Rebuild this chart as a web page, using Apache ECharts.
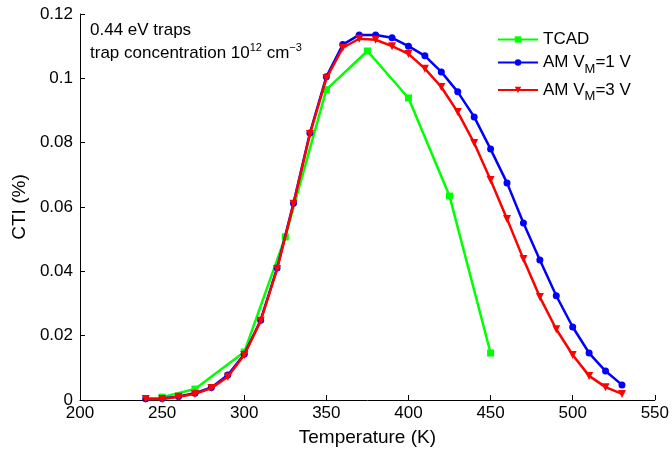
<!DOCTYPE html>
<html>
<head>
<meta charset="utf-8">
<script src="https://cdn.jsdelivr.net/npm/echarts@6/dist/echarts.min.js"></script>
<style>
html,body{margin:0;padding:0;background:#fff;}
#c{width:672px;height:452px;}
</style>
</head>
<body>
<div id="c"></div>
<script>
var tcadT = [250, 270, 300, 325, 350, 375, 400, 425, 450];
var tcadV = [0.0009, 0.0034, 0.0149, 0.0507, 0.0965, 0.1085, 0.0939, 0.0634, 0.0146];
var amT = [240, 250, 260, 270, 280, 290, 300, 310, 320, 330, 340, 350, 360, 370, 380, 390, 400, 410, 420, 430, 440, 450, 460, 470, 480, 490, 500, 510, 520, 530];
var am1V = [0.0004, 0.0005, 0.0011, 0.0021, 0.0039, 0.0078, 0.0142, 0.0248, 0.0410, 0.0612, 0.0830, 0.1005, 0.1105, 0.1135, 0.1135, 0.1126, 0.1100, 0.1070, 0.1020, 0.0958, 0.0880, 0.0780, 0.0675, 0.0550, 0.0435, 0.0324, 0.0227, 0.0146, 0.0090, 0.0047];
var am3V = [0.0003, 0.0003, 0.0010, 0.0019, 0.0037, 0.0072, 0.0140, 0.0246, 0.0407, 0.0610, 0.0827, 0.1000, 0.1095, 0.1123, 0.1120, 0.1100, 0.1076, 0.1030, 0.0973, 0.0895, 0.0799, 0.0684, 0.0563, 0.0438, 0.0320, 0.0220, 0.0140, 0.0075, 0.0040, 0.0019];
var seriesNames = ['TCAD', 'AM VM=1 V', 'AM VM=3 V'];
var xLabel = 'Temperature (K)';
var yLabel = 'CTI (%)';
var noteLine1 = '0.44 eV traps';

function zip(a, b) { return a.map(function (v, i) { return [v, b[i]]; }); }

var FONT = '"Liberation Sans", Arial, sans-serif';
var chart = echarts.init(document.getElementById('c'), null, {renderer: 'canvas'});
var richBase = {
  n: {fontSize: 17, fontFamily: FONT, color: '#000', lineHeight: 26},
  s: {fontSize: 13, fontFamily: FONT, color: '#000', lineHeight: 10, verticalAlign: 'bottom'}
};
chart.setOption({
  animation: false,
  backgroundColor: '#fff',
  grid: {left: 80, right: 16, top: 14, bottom: 52, containLabel: false},
  xAxis: {
    type: 'value', min: 200, max: 550, interval: 50,
    name: xLabel, nameLocation: 'middle', nameGap: 28,
    nameTextStyle: {fontSize: 19, fontFamily: FONT, color: '#000'},
    axisLine: {onZero: false, lineStyle: {color: '#000', width: 1}},
    axisTick: {inside: true, length: 5, lineStyle: {color: '#000'}},
    axisLabel: {fontSize: 17, fontFamily: FONT, color: '#000', margin: 5},
    splitLine: {show: false}
  },
  yAxis: {
    type: 'value', min: 0, max: 0.12, interval: 0.02,
    name: yLabel, nameLocation: 'middle', nameGap: 48,
    nameTextStyle: {fontSize: 19, fontFamily: FONT, color: '#000'},
    axisLine: {show: true, lineStyle: {color: '#000', width: 1}},
    axisTick: {show: true, inside: true, length: 5, lineStyle: {color: '#000'}},
    axisLabel: {fontSize: 17, fontFamily: FONT, color: '#000', margin: 7,
      formatter: function (v) { return String(parseFloat(v.toFixed(3))); }},
    splitLine: {show: false}
  },
  legend: {
    orient: 'vertical', left: 492, top: 26, itemWidth: 40, itemHeight: 8, itemGap: 6,
    data: seriesNames,
    textStyle: {fontSize: 17, fontFamily: FONT, color: '#000', rich: richBase},
    formatter: function (name) {
      if (name === 'TCAD') return '{n|TCAD}';
      var m = name.match(/^AM VM=(\d) V$/);
      return '{n|AM V}{s|M}{n|=' + m[1] + ' V}';
    }
  },
  graphic: [{
    type: 'text', left: 90, top: 22,
    style: {
      text: '{n|' + noteLine1 + '}\n{n|trap concentration 10}{p|12}{n| cm}{p|−3}',
      rich: {
        n: {fontSize: 17, fontFamily: FONT, fill: '#000', lineHeight: 23},
        p: {fontSize: 11, fontFamily: FONT, fill: '#000', lineHeight: 10, verticalAlign: 'top'}
      }
    }
  }],
  series: [
    {name: seriesNames[0], type: 'line', data: zip(tcadT, tcadV), color: '#00ff00',
      lineStyle: {width: 2.5, color: '#00ff00'}, symbol: 'rect', symbolSize: 7,
      itemStyle: {color: '#00ff00'}, z: 2},
    {name: seriesNames[1], type: 'line', data: zip(amT, am1V), color: '#0000ff',
      lineStyle: {width: 2.5, color: '#0000ff'}, symbol: 'circle', symbolSize: 7,
      itemStyle: {color: '#0000ff'}, z: 3},
    {name: seriesNames[2], type: 'line', data: zip(amT, am3V), color: '#ff0000',
      lineStyle: {width: 2.5, color: '#ff0000'}, symbol: 'triangle', symbolRotate: 180, symbolSize: 8,
      itemStyle: {color: '#ff0000'}, z: 4}
  ]
});
</script>
</body>
</html>
